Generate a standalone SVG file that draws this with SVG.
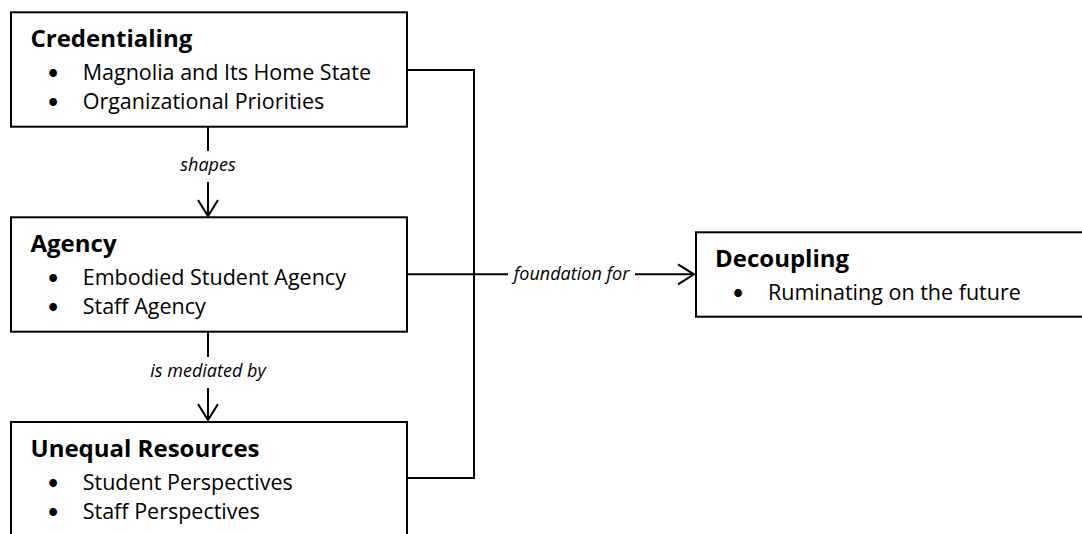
<svg xmlns="http://www.w3.org/2000/svg" width="1082" height="534" viewBox="0 0 1082 534">
<style>
text{font-variant-ligatures:none}
.box{fill:#fff;stroke:#000;stroke-width:2}
.title{font-family:"Open Sans",Lato,sans-serif;font-weight:bold;font-size:24px;fill:#000}
.item{font-family:"Open Sans",Lato,sans-serif;font-size:21.5px;fill:#000}
.bul{font-family:Lato,"Open Sans",sans-serif;font-size:21px;fill:#000;text-anchor:middle}
.lbl{font-family:"Open Sans",Lato,sans-serif;font-style:italic;font-size:18px;fill:#000;text-anchor:middle}
.ln{fill:none;stroke:#000;stroke-width:2}
</style>
<defs>
<marker id="ah" viewBox="0 0 20 24" refX="18" refY="12" markerWidth="20" markerHeight="24" markerUnits="userSpaceOnUse" orient="auto">
<path d="M2,2 L18,12 L2,22" fill="none" stroke="#000" stroke-width="2"/>
</marker>
</defs>
<g id="connectors">
<path class="ln" d="M407,70 H474 V478 H407"/>
<line class="ln" x1="208" y1="127" x2="208" y2="151"/>
<line class="ln" x1="208" y1="182" x2="208" y2="216" marker-end="url(#ah)"/>
<text class="lbl" x="208" y="171">shapes</text>
<line class="ln" x1="208" y1="332" x2="208" y2="357"/>
<line class="ln" x1="208" y1="388" x2="208" y2="420" marker-end="url(#ah)"/>
<text class="lbl" x="208" y="377">is mediated by</text>
<line class="ln" x1="407" y1="274.3" x2="508" y2="274.3"/>
<line class="ln" x1="635" y1="274.3" x2="694" y2="274.3" marker-end="url(#ah)"/>
<text class="lbl" x="571.5" y="280">foundation for</text>
</g>
<g id="credentialing">
<rect class="box" x="11" y="12.3" width="396" height="114.4"/>
<text class="title" x="30.5" y="47.3">Credentialing</text>
<text class="bul" x="53" y="80.3">•</text>
<text class="item" x="82.7" y="80.3">Magnolia and Its Home State</text>
<text class="bul" x="53" y="109.3">•</text>
<text class="item" x="82.7" y="109.3">Organizational Priorities</text>
</g>
<g id="agency">
<rect class="box" x="11" y="217.3" width="396" height="114.4"/>
<text class="title" x="30.5" y="252.3">Agency</text>
<text class="bul" x="53" y="285.3">•</text>
<text class="item" x="82.7" y="285.3">Embodied Student Agency</text>
<text class="bul" x="53" y="314.3">•</text>
<text class="item" x="82.7" y="314.3">Staff Agency</text>
</g>
<g id="unequal">
<rect class="box" x="11" y="422" width="396" height="130"/>
<text class="title" x="30.5" y="457">Unequal Resources</text>
<text class="bul" x="53" y="490">•</text>
<text class="item" x="82.7" y="490">Student Perspectives</text>
<text class="bul" x="53" y="519">•</text>
<text class="item" x="82.7" y="519">Staff Perspectives</text>
</g>
<g id="decoupling">
<rect class="box" x="696" y="232.3" width="400" height="84.4"/>
<text class="title" x="715" y="267.3">Decoupling</text>
<text class="bul" x="738" y="300">•</text>
<text class="item" x="768" y="300">Ruminating on the future</text>
</g>
</svg>
